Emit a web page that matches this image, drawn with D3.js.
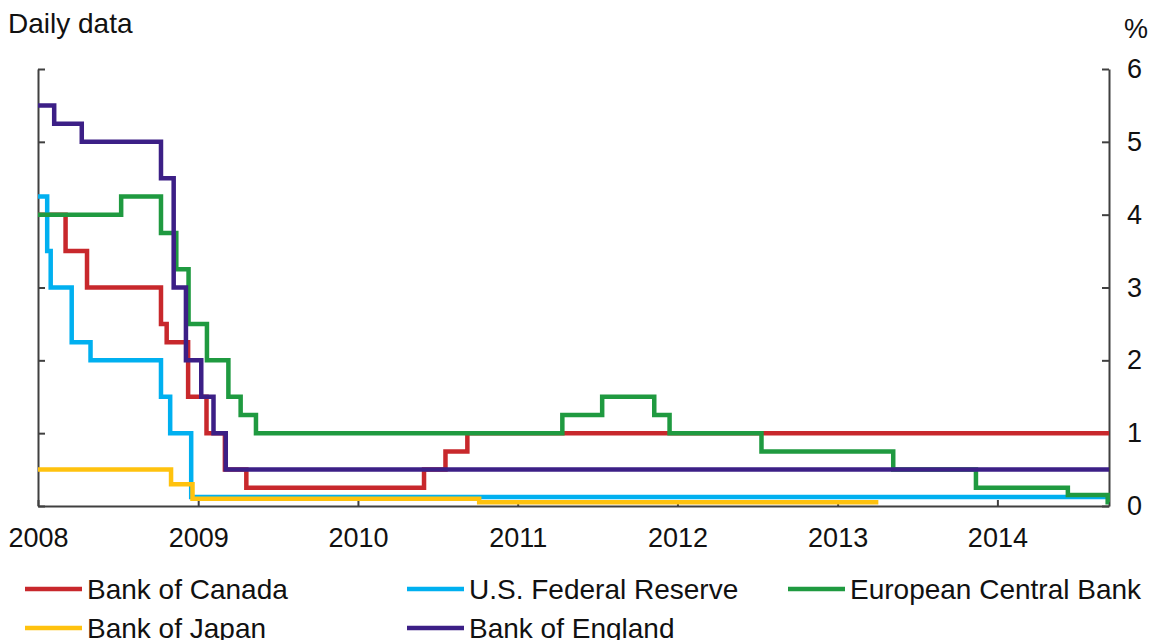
<!DOCTYPE html>
<html>
<head>
<meta charset="utf-8">
<script src="https://cdn.jsdelivr.net/npm/d3@7"></script>
<style>
  body { margin: 0; background: #fff; }
  svg { display: block; font-family: "Liberation Sans", Arial, sans-serif; }
</style>
</head>
<body>
<svg id="chart" width="1152" height="640"></svg>
<script>
// policy rates, step changes (date, %)
const bankOfCanada = [
  ["2008-01-01", 4.0], ["2008-03-04", 3.5], ["2008-04-22", 3.0], ["2008-10-08", 2.5],
  ["2008-10-21", 2.25], ["2008-12-09", 1.5], ["2009-01-20", 1.0], ["2009-03-03", 0.5],
  ["2009-04-21", 0.25], ["2010-06-01", 0.5], ["2010-07-20", 0.75], ["2010-09-08", 1.0],
  ["2014-09-13", 1.0]
];
const usFed = [
  ["2008-01-01", 4.25], ["2008-01-22", 3.5], ["2008-01-30", 3.0], ["2008-03-18", 2.25],
  ["2008-04-30", 2.0], ["2008-10-08", 1.5], ["2008-10-29", 1.0], ["2008-12-16", 0.125],
  ["2014-09-13", 0.125]
];
const ecb = [
  ["2008-01-01", 4.0], ["2008-07-09", 4.25], ["2008-10-08", 3.75], ["2008-11-12", 3.25],
  ["2008-12-10", 2.5], ["2009-01-21", 2.0], ["2009-03-11", 1.5], ["2009-04-08", 1.25],
  ["2009-05-13", 1.0], ["2011-04-13", 1.25], ["2011-07-13", 1.5], ["2011-11-09", 1.25],
  ["2011-12-14", 1.0], ["2012-07-11", 0.75], ["2013-05-08", 0.5], ["2013-11-13", 0.25],
  ["2014-06-11", 0.15], ["2014-09-10", 0.05], ["2014-09-13", 0.05]
];
const bankOfJapan = [
  ["2008-01-01", 0.5], ["2008-10-31", 0.3], ["2008-12-19", 0.1], ["2010-10-05", 0.05],
  ["2013-04-04", 0.05]
];
const bankOfEngland = [
  ["2008-01-01", 5.5], ["2008-02-07", 5.25], ["2008-04-10", 5.0], ["2008-10-08", 4.5],
  ["2008-11-06", 3.0], ["2008-12-04", 2.0], ["2009-01-08", 1.5], ["2009-02-05", 1.0],
  ["2009-03-05", 0.5], ["2014-09-13", 0.5]
];

const xDomain = ["2008-01-01", "2014-09-13"];
const yDomain = [0, 6];
const yTicks = [0, 1, 2, 3, 4, 5, 6];
const yearTicks = ["2008", "2009", "2010", "2011", "2012", "2013", "2014"];

// drawing order = legend order except purple last so it sits on top
const series = [
  {name: "Bank of Canada", data: bankOfCanada, color: "#c8282c"},
  {name: "U.S. Federal Reserve", data: usFed, color: "#00b0f0"},
  {name: "European Central Bank", data: ecb, color: "#1f9a40"},
  {name: "Bank of Japan", data: bankOfJapan, color: "#ffc20e"},
  {name: "Bank of England", data: bankOfEngland, color: "#3c1f86"}
];

const parse = d3.timeParse("%Y-%m-%d");
const axisColor = "#404040";
const textColor = "#111";
const fontSize = 28;
const tickFontSize = 27;

const svg = d3.select("#chart");

const x = d3.scaleTime()
  .domain(xDomain.map(parse))
  .range([38, 1109]);
const y = d3.scaleLinear()
  .domain(yDomain)
  .range([506, 69]);

// left axis: ticks only
svg.append("g")
  .attr("transform", `translate(${x.range()[0]},0)`)
  .call(d3.axisRight(y).tickValues(yTicks).tickSizeInner(7).tickSizeOuter(0).tickFormat(""));

// right axis: ticks inward, labels outside
svg.append("g")
  .attr("class", "yRight")
  .attr("transform", `translate(${x.range()[1]},0)`)
  .call(d3.axisRight(y).tickValues(yTicks).tickSizeInner(-7).tickSizeOuter(0)
    .tickPadding(18).tickFormat(d3.format("d")));

// bottom axis
svg.append("g")
  .attr("class", "xAxis")
  .attr("transform", `translate(0,${y.range()[0]})`)
  .call(d3.axisBottom(x)
    .tickValues(yearTicks.map(d => parse(d + "-01-01")))
    .tickSizeInner(-6).tickSizeOuter(0).tickPadding(22)
    .tickFormat(d3.timeFormat("%Y")));

svg.selectAll(".domain, .tick line")
  .attr("stroke", axisColor)
  .attr("stroke-width", 2);
svg.selectAll(".tick text")
  .attr("font-size", tickFontSize)
  .attr("font-family", "'Liberation Sans', Arial, sans-serif")
  .attr("fill", textColor);

const line = d3.line()
  .curve(d3.curveStepAfter)
  .x(d => x(parse(d[0])))
  .y(d => y(d[1]));

svg.append("g")
  .selectAll("path")
  .data(series)
  .join("path")
  .attr("d", d => line(d.data))
  .attr("fill", "none")
  .attr("stroke", d => d.color)
  .attr("stroke-width", 4.5);

// titles
svg.append("text")
  .attr("x", 8).attr("y", 33)
  .attr("font-size", fontSize)
  .attr("fill", textColor)
  .text("Daily data");
svg.append("text")
  .attr("x", 1124).attr("y", 38)
  .attr("font-size", tickFontSize)
  .attr("fill", textColor)
  .text("%");

// legend
const legendCols = [25, 407, 788];
const legendRows = [589, 628];
const legend = svg.append("g")
  .selectAll("g")
  .data(series)
  .join("g")
  .attr("transform", (d, i) => `translate(${legendCols[i % 3]},${legendRows[Math.floor(i / 3)]})`);
legend.append("line")
  .attr("x1", 0).attr("x2", 57)
  .attr("stroke", d => d.color)
  .attr("stroke-width", 4.5);
legend.append("text")
  .attr("x", 62).attr("y", 10)
  .attr("font-size", fontSize)
  .attr("fill", textColor)
  .text(d => d.name);
</script>
</body>
</html>
